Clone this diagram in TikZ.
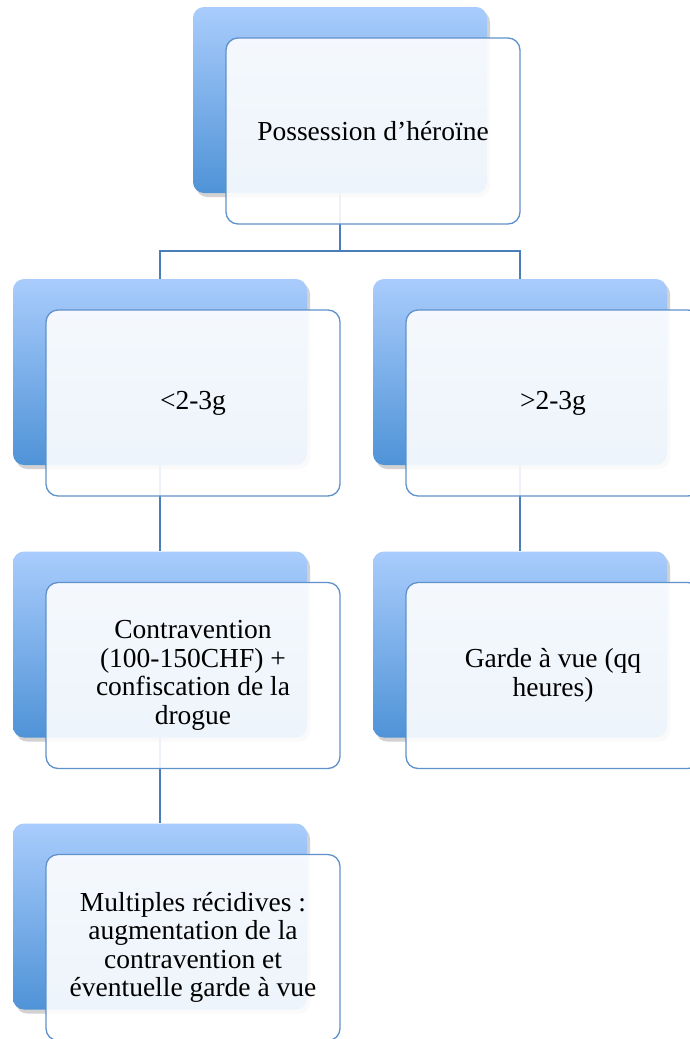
\documentclass[tikz,border=0pt]{standalone}
\usepackage{fontspec}
\setmainfont{Liberation Serif}
\usepackage{xcolor}
\usetikzlibrary{shadows}

\definecolor{backtop}{HTML}{A9CCFC}
\definecolor{backbot}{HTML}{4F93D7}
\definecolor{edgeblue}{HTML}{5F91CB}
\definecolor{linkblue}{HTML}{4A7EBB}

\begin{document}
\begin{tikzpicture}[x=1pt, y=-1pt,
    back/.style={rectangle, rounded corners=11pt, top color=backtop, bottom color=backbot,
                 minimum width=294pt, minimum height=186pt, inner sep=0pt,
                 drop shadow={shadow xshift=3pt, shadow yshift=-4pt, opacity=.25, fill=black!70}},
    front/.style={rectangle, rounded corners=12pt, draw=edgeblue, line width=1.3pt,
                  fill=white, fill opacity=.9, text opacity=1,
                  minimum width=294pt, minimum height=186pt, inner sep=0pt,
                  align=center, font=\fontsize{27.5}{28.5}\selectfont,
                  xshift=33pt, yshift=-31pt},
    link/.style={draw=linkblue, line width=2pt}
]
    \useasboundingbox (0,0) rectangle (690,1039);

    \node[back] (rootback)    at (340, 100)   {};
    \node[back] (lowback)     at (160, 372)   {};
    \node[back] (highback)    at (520, 372)   {};
    \node[back] (finesback)   at (160, 644.5) {};
    \node[back] (custodyback) at (520, 644.5) {};
    \node[back] (repeatback)  at (160, 916.5) {};

    % connectors, behind the text boxes
    \draw[link] (rootback.south) -- ++(0, 58) -| (lowback.north);
    \draw[link] (rootback.south) -- ++(0, 58) -| (highback.north);
    \draw[link] (lowback) -- (finesback);
    \draw[link] (highback) -- (custodyback);
    \draw[link] (finesback) -- (repeatback);

    \node[front] (root)    at (rootback)    {Possession d’héroïne};
    \node[front] (low)     at (lowback)     {<2-3g};
    \node[front] (high)    at (highback)    {>2-3g};
    \node[front] (fines)   at (finesback)   {Contravention\\(100-150CHF) +\\confiscation de la\\drogue};
    \node[front] (custody) at (custodyback) {Garde à vue (qq\\heures)};
    \node[front] (repeat)  at (repeatback)  {Multiples récidives :\\augmentation de la\\contravention et\\éventuelle garde à vue};
\end{tikzpicture}
\end{document}
